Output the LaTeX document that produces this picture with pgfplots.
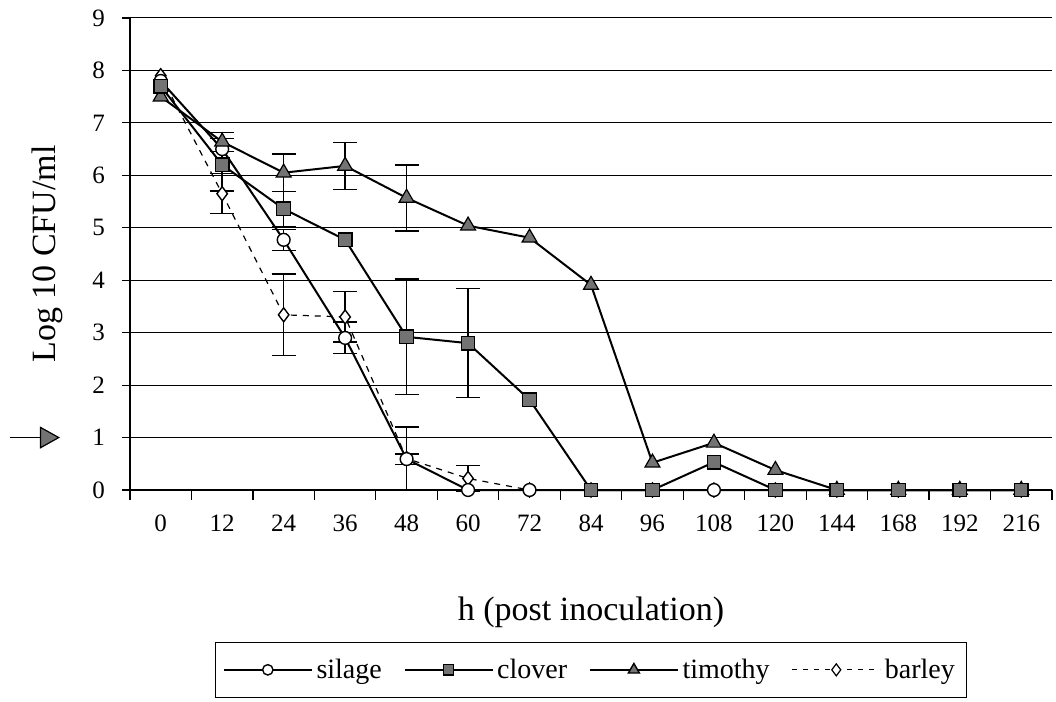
\documentclass[border=0pt]{standalone}
\usepackage{fontspec}
\setmainfont{Liberation Serif}
\usepackage{pgfplots}
\pgfplotsset{compat=1.18}
\usetikzlibrary{arrows.meta}
\begin{document}
\begin{tikzpicture}
\begin{axis}[
  scale only axis, width=461pt, height=236pt,
  xmin=-0.5, xmax=14.5, ymin=0, ymax=9,
  axis lines*=left,
  axis line style={black, line width=0.8pt},
  xtick={0,...,14},
  xticklabels={0,12,24,36,48,60,72,84,96,108,120,144,168,192,216},
  minor xtick={-0.5,0.5,...,14.5},
  ytick={0,...,9},
  ymajorgrids, grid style={black, line width=0.5pt},
  tick align=outside, major tick length=4pt, minor tick length=5pt,
  major x tick style={draw=none},
  minor tick style={black, line width=0.6pt},
  ytick style={black, line width=0.6pt},
  /pgf/number format/assume math mode=true,
  ticklabel style={font=\fontsize{12.5}{14}\selectfont},
  xticklabel style={yshift=-5pt},
  yticklabel style={xshift=-5pt},
  xlabel={h (post inoculation)},
  ylabel={Log 10 CFU/ml},
  every axis x label/.style={at={(axis description cs:0.5,-0.2585)}, anchor=center, font=\fontsize{17}{20}\selectfont},
  every axis y label/.style={at={(axis description cs:-0.09,0.5)}, anchor=center, rotate=90, font=\fontsize{17}{20}\selectfont},
  clip=false,
  legend columns=4,
  legend style={at={(axis description cs:0.5,-0.381)}, anchor=center, draw=black, line width=0.5pt,
    font=\fontsize{14}{16}\selectfont, inner xsep=4pt, inner ysep=6pt,
    /tikz/every even column/.append style={column sep=9pt}},
  legend image code/.code={\draw[mark repeat=2,mark phase=2,#1] plot coordinates {(0pt,0pt) (22pt,0pt) (44pt,0pt)};},
]
\coordinate (bl) at (rel axis cs:0,0);
\coordinate (tr) at (rel axis cs:1,1);
% error bars
\addplot[forget plot, draw=none, line width=0.7pt, error bars/.cd, y dir=both, y explicit,
  error bar style={black, line width=0.7pt}, error mark options={rotate=90, mark size=6pt, black, line width=0.7pt}]
  coordinates {
  (2,4.77) +- (0,0.2)
  (3,2.9) +- (0,0.3)
  (4,0.59) +- (0,0.1)
  (1,6.2) +- (0,0.5)
  (2,5.36) +- (0,0.33)
  (4,2.92) +- (0,1.1)
  (5,2.8) +- (0,1.04)
  (1,6.64) +- (0,0.18)
  (2,6.05) +- (0,0.36)
  (3,6.18) +- (0,0.45)
  (4,5.57) +- (0,0.63)
  (1,5.65) +- (0,0.38)
  (2,3.34) +- (0,0.78)
  (3,3.3) +- (0,0.48)
  (4,0.6) +- (0,0.6)
  (5,0.22) +- (0,0.25)
  };
% barley
\addplot[forget plot, black, line width=0.6pt, dash pattern=on 3pt off 3pt, mark=diamond*, mark size=3.5pt,
  mark options={solid, fill=white, line width=0.7pt}]
  coordinates {(0,7.9) (1,5.65) (2,3.34) (3,3.3) (4,0.6) (5,0.22) (6,0) (7,0) (8,0) (9,0) (10,0) (11,0) (12,0) (13,0) (14,0)};
% silage
\addplot[forget plot, black, line width=1pt, mark=*, mark size=3.2pt, mark options={fill=white, line width=0.7pt}]
  coordinates {(0,7.8) (1,6.5) (2,4.77) (3,2.9) (4,0.59) (5,0) (6,0) (7,0) (8,0) (9,0) (10,0) (11,0) (12,0) (13,0) (14,0)};
% timothy
\addplot[forget plot, black, line width=1pt, mark=triangle*, mark size=4.3pt, mark options={fill=black!55, line width=0.6pt}]
  coordinates {(0,7.5) (1,6.64) (2,6.05) (3,6.18) (4,5.57) (5,5.04) (6,4.81) (7,3.91) (8,0.52) (9,0.9) (10,0.38) (11,0) (12,0) (13,0) (14,0)};
% clover
\addplot[forget plot, black, line width=1pt, mark=square*, mark size=3.4pt, mark options={fill=black!55, line width=0.6pt}]
  coordinates {(0,7.7) (1,6.2) (2,5.36) (3,4.77) (4,2.92) (5,2.8) (6,1.72) (7,0) (8,0) (9,0.53) (10,0) (11,0) (12,0) (13,0) (14,0)};
% legend
\addlegendimage{black, line width=0.7pt, mark=*, mark size=2.6pt, mark options={fill=white}}
\addlegendentry{silage}
\addlegendimage{black, line width=0.7pt, mark=square*, mark size=2.6pt, mark options={fill=black!55}}
\addlegendentry{clover}
\addlegendimage{black, line width=0.7pt, mark=triangle*, mark size=3.2pt, mark options={fill=black!55}}
\addlegendentry{timothy}
\addlegendimage{black, line width=0.6pt, dash pattern=on 2.5pt off 3pt, mark=diamond*, mark size=3pt, mark options={solid, fill=white}}
\addlegendentry{barley}
% arrow annotation
\draw[line width=0.6pt, -{Triangle[length=10pt,width=11pt,fill=black!55]}]
  ([xshift=-60pt]axis cs:-0.5,1) -- ([xshift=-35pt]axis cs:-0.5,1);
\end{axis}
\pgfresetboundingbox
\path[use as bounding box] ([xshift=-65pt,yshift=-106pt]bl) rectangle ([xshift=2pt,yshift=9pt]tr);
\end{tikzpicture}
\end{document}
